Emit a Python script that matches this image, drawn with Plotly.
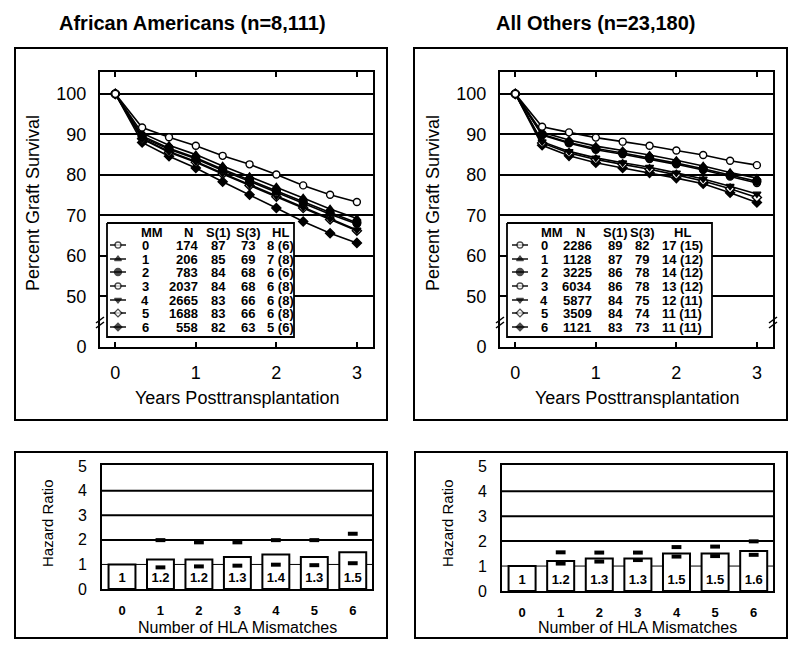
import plotly.graph_objects as go

# ---------------- DATA ----------------
years = [0, 0.333, 0.667, 1, 1.333, 1.667, 2, 2.333, 2.667, 3]
mm = [0, 1, 2, 3, 4, 5, 6]

# African Americans survival curves (%), one list per number of mismatches
aa_mm0 = [100, 91.7, 89.3, 87.2, 84.7, 82.6, 80.1, 77.4, 75.1, 73.3]
aa_mm1 = [100, 90.3, 87.3, 85.0, 82.2, 79.6, 77.0, 74.3, 71.6, 69.2]
aa_mm2 = [100, 89.6, 86.6, 84.2, 81.4, 78.7, 76.0, 73.3, 70.7, 68.2]
aa_mm3 = [100, 89.3, 86.3, 84.0, 81.1, 78.4, 75.6, 73.0, 70.3, 67.9]
aa_mm4 = [100, 89.0, 85.8, 83.3, 80.4, 77.6, 74.8, 72.0, 69.2, 66.4]
aa_mm5 = [100, 88.9, 85.6, 83.1, 80.2, 77.4, 74.6, 71.8, 69.0, 66.2]
aa_mm6 = [100, 88.0, 84.6, 81.7, 78.3, 75.1, 71.8, 68.5, 65.6, 63.2]

# All Others survival curves (%)
ot_mm0 = [100, 91.9, 90.5, 89.2, 88.2, 87.2, 86.0, 84.9, 83.5, 82.4]
ot_mm1 = [100, 90.5, 88.6, 87.1, 86.0, 84.9, 83.6, 82.2, 80.6, 79.2]
ot_mm2 = [100, 90.0, 88.0, 86.5, 85.4, 84.2, 82.9, 81.5, 79.9, 78.4]
ot_mm3 = [100, 89.8, 87.8, 86.2, 85.1, 83.9, 82.6, 81.2, 79.6, 78.0]
ot_mm4 = [100, 88.2, 85.8, 84.2, 83.0, 81.9, 80.5, 79.0, 77.2, 75.3]
ot_mm5 = [100, 87.9, 85.4, 83.8, 82.6, 81.4, 80.0, 78.5, 76.6, 74.4]
ot_mm6 = [100, 87.3, 84.7, 83.0, 81.7, 80.5, 79.2, 77.8, 75.6, 73.2]

# Table values
aa_n = [174, 206, 783, 2037, 2665, 1688, 558]
aa_s1 = [87, 85, 84, 84, 83, 83, 82]
aa_s3 = [73, 69, 68, 68, 66, 66, 63]
aa_hl = ["8 (6)", "7 (8)", "6 (6)", "6 (8)", "6 (8)", "6 (8)", "5 (6)"]

ot_n = [2286, 1128, 3225, 6034, 5877, 3509, 1121]
ot_s1 = [89, 87, 86, 86, 84, 84, 83]
ot_s3 = [82, 79, 78, 78, 75, 74, 73]
ot_hl = ["17 (15)", "14 (12)", "14 (12)", "13 (12)", "12 (11)", "11 (11)", "11 (11)"]

# Hazard ratios and confidence limits (mismatches 1..6)
aa_hr = [1, 1.2, 1.2, 1.3, 1.4, 1.3, 1.5]
aa_hr_lo = [0.88, 0.92, 0.95, 0.99, 0.97, 1.05]
aa_hr_hi = [1.99, 1.90, 1.90, 1.99, 1.99, 2.25]
ot_hr = [1, 1.2, 1.3, 1.3, 1.5, 1.5, 1.6]
ot_hr_lo = [1.10, 1.18, 1.24, 1.38, 1.40, 1.45]
ot_hr_hi = [1.55, 1.54, 1.54, 1.76, 1.78, 1.99]

y_tickvals = [37.5, 50, 60, 70, 80, 90, 100]
y_ticktext = ["0", "50", "60", "70", "80", "90", "100"]
x_tickvals = [0, 1, 2, 3]
hr_ticks = [0, 1, 2, 3, 4, 5]

# ---------------- STYLE ----------------
FONT = "Liberation Sans"
W, H = 800, 654
symbols = ["circle", "triangle-up", "circle", "circle", "triangle-down", "diamond", "diamond"]
fills = ["white", "black", "black", "white", "black", "white", "black"]
sizes = [7, 7, 8, 7, 7, 7, 7]

aa_curves = [aa_mm0, aa_mm1, aa_mm2, aa_mm3, aa_mm4, aa_mm5, aa_mm6]
ot_curves = [ot_mm0, ot_mm1, ot_mm2, ot_mm3, ot_mm4, ot_mm5, ot_mm6]


def px(x):
    return x / W


def py(y):
    return 1 - y / H


fig = go.Figure()

# ---- survival curves ----
for (xa, ya), curves in ((("x", "y"), aa_curves), (("x2", "y2"), ot_curves)):
    for i in range(len(curves) - 1, -1, -1):
        fig.add_trace(go.Scatter(
            x=years, y=curves[i], mode="lines+markers", xaxis=xa, yaxis=ya,
            line=dict(color="black", width=1.6),
            marker=dict(symbol=symbols[i], size=sizes[i], color=fills[i],
                        line=dict(color="black", width=1.4)),
            showlegend=False, hoverinfo="skip"))

# ---- inset tables (overlay axes in pixel units relative to plot area) ----
annotations = []
tables = [
    dict(xa="x5", ya="y5", box=(7, 194), sym=(10, 18, 26), mm_x=45, mm_h=52,
         n_x=100, n_h=88, n_anchor="right", s1=118, s3=148, hl=180,
         n=aa_n, s1v=aa_s1, s3v=aa_s3, hlv=aa_hl),
    dict(xa="x6", ya="y6", box=(7, 212), sym=(12, 20, 28), mm_x=44, mm_h=52,
         n_x=77, n_h=80, n_anchor="center", s1=115, s3=142, hl=182,
         n=ot_n, s1v=ot_s1, s3v=ot_s3, hlv=ot_hl),
]
row_y = [173, 187, 200, 214, 228, 241, 255]
head_y = 160
for t in tables:
    x0, x1 = t["box"]
    fig.add_trace(go.Scatter(
        x=[x0, x1, x1, x0, x0], y=[151, 151, 265, 265, 151], mode="lines",
        fill="toself", fillcolor="white", line=dict(color="black", width=1.8),
        xaxis=t["xa"], yaxis=t["ya"], showlegend=False, hoverinfo="skip"))
    for i in range(7):
        fig.add_trace(go.Scatter(
            x=list(t["sym"]), y=[row_y[i]] * 3, mode="lines+markers",
            line=dict(color="black", width=1.4),
            marker=dict(symbol=symbols[i], size=[0, sizes[i] - 1, 0], color=fills[i],
                        line=dict(color="black", width=1.3)),
            xaxis=t["xa"], yaxis=t["ya"], showlegend=False, hoverinfo="skip"))
    tf = dict(family=FONT, size=13, color="black")
    hdr = [("MM", t["mm_h"], "center"), ("N", t["n_h"], "center"),
           ("S(1)", t["s1"], "center"), ("S(3)", t["s3"], "center"), ("HL", t["hl"], "center")]
    for txt, xx, anc in hdr:
        annotations.append(dict(x=xx, y=head_y, xref=t["xa"], yref=t["ya"],
                                text="<b>%s</b>" % txt,
                                showarrow=False, font=tf, xanchor=anc, yanchor="middle"))
    for i in range(7):
        cells = [(str(mm[i]), t["mm_x"], "center"), (str(t["n"][i]), t["n_x"], t["n_anchor"]),
                 (str(t["s1v"][i]), t["s1"], "center"), (str(t["s3v"][i]), t["s3"], "center"),
                 (t["hlv"][i], t["hl"], "center")]
        for txt, xx, anc in cells:
            annotations.append(dict(x=xx, y=row_y[i], xref=t["xa"], yref=t["ya"],
                                    text="<b>%s</b>" % txt,
                                    showarrow=False, font=tf, xanchor=anc, yanchor="middle"))

# ---- hazard ratio bars ----
for (xa, ya), hr, lo, hi in ((("x3", "y3"), aa_hr, aa_hr_lo, aa_hr_hi),
                             (("x4", "y4"), ot_hr, ot_hr_lo, ot_hr_hi)):
    fig.add_trace(go.Bar(x=mm, y=hr, width=0.7, xaxis=xa, yaxis=ya,
                         marker=dict(color="white", line=dict(color="black", width=2)),
                         showlegend=False, hoverinfo="skip"))
    fig.add_trace(go.Scatter(x=mm[1:] + mm[1:], y=lo + hi, mode="markers", xaxis=xa, yaxis=ya,
                             marker=dict(symbol="line-ew", size=7,
                                         line=dict(color="black", width=4)),
                             showlegend=False, hoverinfo="skip"))
    fig.add_trace(go.Scatter(x=mm, y=[0.42] * len(mm), mode="text", xaxis=xa, yaxis=ya,
                             text=["<b>%s</b>" % v for v in hr],
                             textfont=dict(family=FONT, size=13, color="black"),
                             showlegend=False, hoverinfo="skip"))

# ---- axes ----
top_y = [py(347), py(72)]
bot_y = [py(589), py(465)]
axis_common = dict(showline=True, linecolor="black", linewidth=2, mirror="ticks",
                   ticks="inside", tickcolor="black", zeroline=False, automargin=False)
yfont = dict(family=FONT, size=18, color="black")
plain = dict(automargin=False)

layout = dict(
    width=W, height=H, margin=dict(l=0, r=0, t=0, b=0, pad=0, autoexpand=False),
    autosize=False,
    paper_bgcolor="white", plot_bgcolor="white", showlegend=False,
    xaxis=dict(domain=[px(100), px(373)], anchor="y", range=[-0.19, 3.2],
               tickvals=x_tickvals, ticklen=5, tickwidth=1.5, showgrid=False,
               tickfont=yfont, ticklabelstandoff=8, **axis_common),
    yaxis=dict(domain=top_y, anchor="x", range=[37.5, 105.4], tickvals=y_tickvals,
               ticktext=y_ticktext, ticklen=6, tickwidth=1.5, showgrid=True,
               gridcolor="black", gridwidth=1.5, tickfont=yfont, ticklabelstandoff=8,
               **axis_common),
    xaxis2=dict(domain=[px(500), px(773)], anchor="y2", range=[-0.19, 3.2],
                tickvals=x_tickvals, ticklen=5, tickwidth=1.5, showgrid=False,
                tickfont=yfont, ticklabelstandoff=8, **axis_common),
    yaxis2=dict(domain=top_y, anchor="x2", range=[37.5, 105.4], tickvals=y_tickvals,
                ticktext=y_ticktext, ticklen=6, tickwidth=1.5, showgrid=True,
                gridcolor="black", gridwidth=1.5, tickfont=yfont, ticklabelstandoff=8,
                **axis_common),
    xaxis3=dict(domain=[px(102), px(372)], anchor="y3", range=[-0.52, 6.5],
                tickvals=mm, ticktext=["<b>%d</b>" % v for v in mm], ticks="",
                showline=True, linecolor="black", linewidth=2, mirror=True,
                showgrid=False, zeroline=False, ticklabelstandoff=8, automargin=False,
                tickfont=dict(family=FONT, size=13, color="black")),
    yaxis3=dict(domain=bot_y, anchor="x3", range=[0, 5.05], tickvals=hr_ticks, ticks="",
                showline=True, linecolor="black", linewidth=2, mirror=True,
                showgrid=False, zeroline=False, ticklabelstandoff=10, automargin=False,
                tickfont=dict(family=FONT, size=16, color="black")),
    xaxis4=dict(domain=[px(502), px(773)], anchor="y4", range=[-0.52, 6.5],
                tickvals=mm, ticktext=["<b>%d</b>" % v for v in mm], ticks="",
                showline=True, linecolor="black", linewidth=2, mirror=True,
                showgrid=False, zeroline=False, ticklabelstandoff=8, automargin=False,
                tickfont=dict(family=FONT, size=13, color="black")),
    yaxis4=dict(domain=[py(591), py(465)], anchor="x4", range=[0, 5.05], tickvals=hr_ticks,
                ticks="", showline=True, linecolor="black", linewidth=2, mirror=True,
                showgrid=False, zeroline=False, ticklabelstandoff=10, automargin=False,
                tickfont=dict(family=FONT, size=16, color="black")),
    xaxis5=dict(overlaying="x", range=[0, 273], visible=False, **plain),
    yaxis5=dict(overlaying="y", range=[275, 0], visible=False, **plain),
    xaxis6=dict(overlaying="x2", range=[0, 273], visible=False, **plain),
    yaxis6=dict(overlaying="y2", range=[275, 0], visible=False, **plain),
)

# ---- shapes: panel frames, hazard gridlines, axis breaks ----
shapes = []
for (x0, y0, x1, y1) in [(15, 48, 387, 420), (414, 48, 787, 420),
                         (15, 452, 387, 638), (415, 452, 787, 638)]:
    shapes.append(dict(type="rect", xref="paper", yref="paper", x0=px(x0), x1=px(x1),
                       y0=py(y1), y1=py(y0), line=dict(color="black", width=2)))
for xr, yr in (("x3 domain", "y3"), ("x4 domain", "y4")):
    for g in hr_ticks[1:5]:
        shapes.append(dict(type="line", xref=xr, yref=yr, x0=0, x1=1, y0=g, y1=g,
                           layer="below",
                           line=dict(color="black", width=1 if g == 1 else 2)))
for bx in (100, 500, 773):
    for dy in (-3, 2):
        shapes.append(dict(type="line", xref="paper", yref="paper",
                           x0=px(bx - 4), x1=px(bx + 4), y0=py(323 + dy + 3), y1=py(323 + dy - 3),
                           line=dict(color="black", width=1.5)))

# ---- titles ----
tfont = dict(family=FONT, size=20, color="black")
for cx, txt in ((192, "African Americans (n=8,111)"), (596, "All Others (n=23,180)")):
    annotations.append(dict(x=px(cx), y=py(23), xref="paper", yref="paper",
                            text="<b>%s</b>" % txt, showarrow=False, font=tfont,
                            xanchor="center", yanchor="middle"))
lfont = dict(family=FONT, size=18, color="black")
for cx in (237, 637):
    annotations.append(dict(x=px(cx), y=py(398), xref="paper", yref="paper",
                            text="Years Posttransplantation", showarrow=False, font=lfont,
                            xanchor="center", yanchor="middle"))
for cx in (33, 433):
    annotations.append(dict(x=px(cx), y=py(203), xref="paper", yref="paper",
                            text="Percent Graft Survival", showarrow=False, font=lfont,
                            textangle=-90, xanchor="center", yanchor="middle"))
sfont = dict(family=FONT, size=16, color="black")
for cx in (237, 637):
    annotations.append(dict(x=px(cx), y=py(627), xref="paper", yref="paper",
                            text="Number of HLA Mismatches", showarrow=False, font=sfont,
                            xanchor="center", yanchor="middle"))
for cx in (47, 447):
    annotations.append(dict(x=px(cx), y=py(523), xref="paper", yref="paper",
                            text="Hazard Ratio", showarrow=False,
                            font=dict(family=FONT, size=15, color="black"),
                            textangle=-90, xanchor="center", yanchor="middle"))

fig.update_layout(**layout)
fig.update_layout(shapes=shapes, annotations=annotations)
fig.write_html("out.html",
               config={"displayModeBar": False, "responsive": False},
               post_script="document.documentElement.style.margin='0';"
                           "document.body.style.margin='0';")
